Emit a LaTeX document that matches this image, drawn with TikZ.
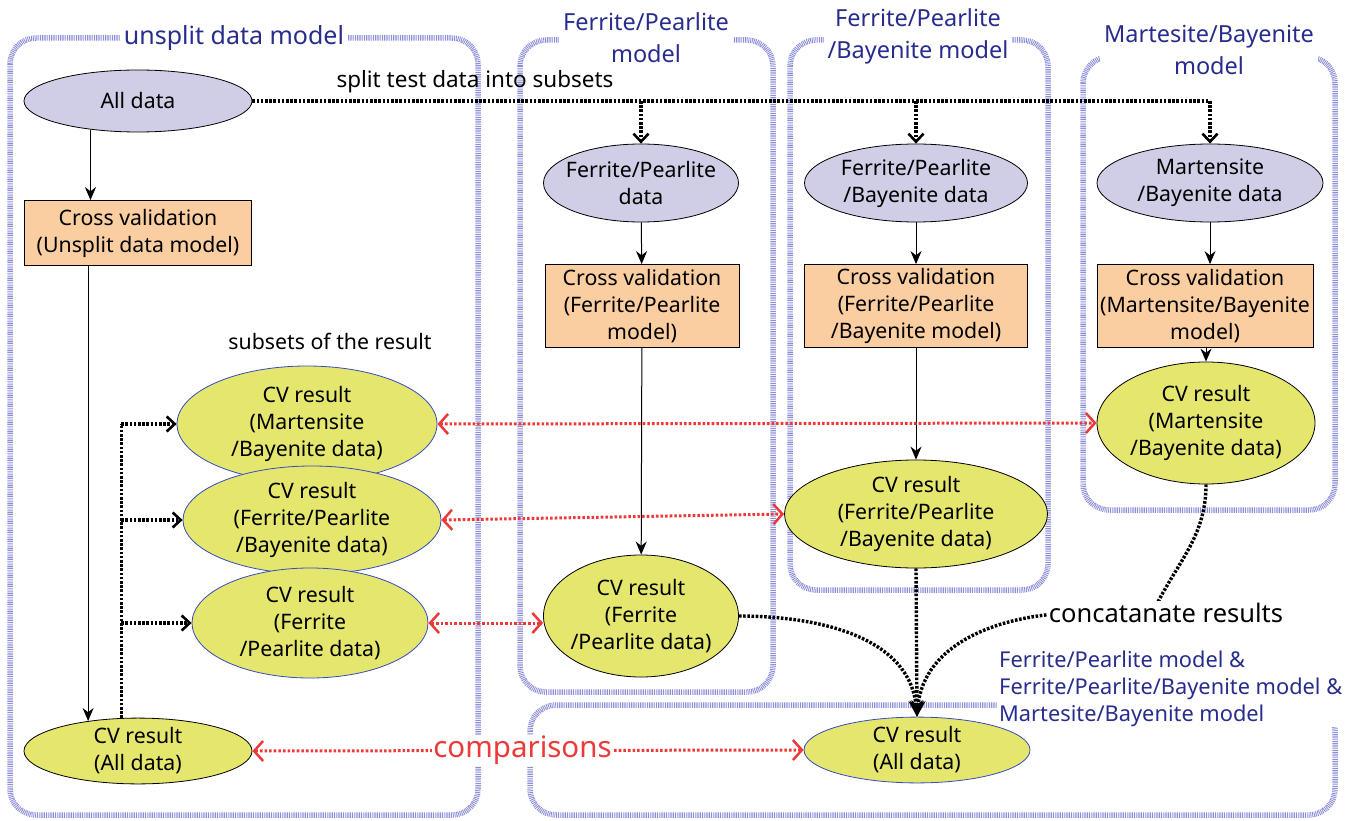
\documentclass[tikz,border=0pt]{standalone}
\usepackage{fontspec}
\setmainfont{Noto Sans}
\usetikzlibrary{shapes.geometric,arrows.meta}
\definecolor{datafill}{RGB}{208,206,230}
\definecolor{cvfill}{RGB}{250,206,160}
\definecolor{resfill}{RGB}{228,230,110}
\definecolor{framecol}{RGB}{140,142,215}
\definecolor{titlecol}{RGB}{40,45,140}
\definecolor{cmpcol}{RGB}{236,58,58}
\definecolor{resline}{RGB}{55,75,190}
\newcommand{\fnode}{\fontsize{21.3}{27}\selectfont}
\newcommand{\ftitle}{\fontsize{23.5}{32}\selectfont}
\newcommand{\drawframe}{\draw[framecol,line width=5.5pt,dash pattern=on 0.9pt off 0.9pt,rounded corners=26pt]}
\tikzset{
  datanode/.style={ellipse,draw,line width=0.8pt,fill=datafill,inner sep=0pt,align=center},
  cvbox/.style={rectangle,draw,line width=0.8pt,fill=cvfill,inner sep=0pt,align=center},
  resnode/.style={ellipse,draw=resline,line width=0.8pt,fill=resfill,inner sep=0pt,align=center},
  frametitle/.style={fill=white,inner xsep=4pt,inner ysep=0pt,text=titlecol,align=center,font=\ftitle},
  flow/.style={-{Stealth[length=13pt,width=11pt]},line width=1pt},
  dotline/.style={line width=3.4pt,dash pattern=on 2.6pt off 1.6pt},
  dotflow/.style={dotline,-{Straight Barb[length=8pt,width=15pt,line width=2.6pt]}},
  catflow/.style={dotline,-{Stealth[length=16pt,width=14pt]}},
  cmpflow/.style={cmpcol,line width=3pt,dash pattern=on 2.6pt off 2pt,
    {Straight Barb[length=9pt,width=20pt,line width=2.5pt]}-{Straight Barb[length=9pt,width=20pt,line width=2.5pt]}}
}
\begin{document}
\begin{tikzpicture}[x=1pt,y=-1pt,font=\fnode]
\useasboundingbox (0,0) rectangle (1362,821);
% model frames
\drawframe (10,38) rectangle (478,815);
\drawframe (520,40) rectangle (773,692);
\drawframe (790,40) rectangle (1048,590);
\drawframe (1083,57) rectangle (1335,510);
\drawframe (530,705) rectangle (1335,815);
\node[frametitle,font=\fontsize{25}{30}\selectfont] (ttlunsplit) at (234,38) {unsplit data model};
\node[frametitle] (ttlfp) at (646,38) {Ferrite/Pearlite\\model};
\node[frametitle] (ttlfpb) at (918,36) {Ferrite/Pearlite\\/Bayenite model};
\node[frametitle] (ttlmb) at (1209,50) {Martesite/Bayenite\\model};
\node[frametitle,align=left,anchor=west,inner xsep=2pt,font=\fontsize{21.8}{27}\selectfont] (ttlall) at (997,689)
  {Ferrite/Pearlite model \&\\Ferrite/Pearlite/Bayenite model \&\\Martesite/Bayenite model};
% unsplit column
\node[datanode,minimum width=228pt,minimum height=62pt] (alldata) at (138,101) {All data};
\node[cvbox,minimum width=227pt,minimum height=65pt] (cvunsplit) at (138,233) {Cross validation\\(Unsplit data model)};
\node[resnode,draw=black,minimum width=228pt,minimum height=62pt] (cvall) at (138,751) {CV result\\(All data)};
% split models
\node[datanode,inner xsep=-12pt,minimum width=195pt,minimum height=78pt] (fpdata) at (641,183) {Ferrite/Pearlite\\data};
\node[datanode,minimum width=223pt,minimum height=78pt] (fpbdata) at (916,183) {Ferrite/Pearlite\\/Bayenite data};
\node[datanode,minimum width=226pt,minimum height=78pt] (mbdata) at (1210,183) {Martensite\\/Bayenite data};
\node[cvbox,minimum width=194pt,minimum height=83pt] (cvfp) at (642,306) {Cross validation\\(Ferrite/Pearlite\\model)};
\node[cvbox,minimum width=223pt,minimum height=83pt] (cvfpb) at (916,306) {Cross validation\\(Ferrite/Pearlite\\/Bayenite model)};
\node[cvbox,minimum width=216pt,minimum height=83pt] (cvmb) at (1205,306) {Cross validation\\(Martensite/Bayenite\\model)};
\node[resnode,draw=black,inner xsep=-8pt,minimum width=195pt,minimum height=122pt] (resfp) at (641,616) {CV result\\(Ferrite\\/Pearlite data)};
\node[resnode,draw=black,minimum width=263pt,minimum height=108pt] (resfpb) at (916,514) {CV result\\(Ferrite/Pearlite\\/Bayenite data)};
\node[resnode,draw=black,minimum width=218pt,minimum height=122pt] (resmb) at (1206,423) {CV result\\(Martensite\\/Bayenite data)};
\node[resnode,minimum width=226pt,minimum height=62pt] (cvallsplit) at (917,750) {CV result\\(All data)};
% subsets of the unsplit result
\node (subsets) at (330,341) {subsets of the result};
\node[resnode,minimum width=260pt,minimum height=116pt] (subsetmb) at (307,424) {CV result\\(Martensite\\/Bayenite data)};
\node[resnode,minimum width=258pt,minimum height=108pt] (subsetfpb) at (312,520) {CV result\\(Ferrite/Pearlite\\/Bayenite data)};
\node[resnode,minimum width=236pt,minimum height=110pt] (subsetfp) at (310,623) {CV result\\(Ferrite\\/Pearlite data)};
% solid flows
\draw[flow] (alldata.211) -- (alldata.211 |- cvunsplit.north);
\draw[flow] (cvall.149 |- cvunsplit.south) -- (cvall.149);
\draw[flow] (fpdata) -- (cvfp);
\draw[flow] (cvfp) -- (resfp);
\draw[flow] (fpbdata) -- (cvfpb);
\draw[flow] (cvfpb) -- (resfpb);
\draw[flow] (mbdata.south) -- (mbdata.south |- cvmb.north);
\draw[flow] (resmb.north |- cvmb.south) -- (resmb.north);
% splitting the test data
\draw[dotline] (alldata.east) -- (alldata.east -| mbdata.north);
\draw[dotflow] (alldata.east -| fpdata.north) -- (fpdata.north);
\draw[dotflow] (alldata.east -| fpbdata.north) -- (fpbdata.north);
\draw[dotflow] (alldata.east -| mbdata.north) -- (mbdata.north);
\node[font=\fontsize{22.5}{27}\selectfont] (splitlbl) at (475,82) {split test data into subsets};
% taking subsets of the unsplit result
\draw[dotline] (cvall.117) -- (cvall.117 |- subsetmb.west);
\draw[dotflow] (cvall.117 |- subsetmb.west) -- (subsetmb.west);
\draw[dotflow] (cvall.117 |- subsetfpb.west) -- (subsetfpb.west);
\draw[dotflow] (cvall.117 |- subsetfp.west) -- (subsetfp.west);
% comparisons
\draw[cmpflow] (subsetmb.east) -- (resmb.west);
\draw[cmpflow] (subsetfpb.east) -- (resfpb.west);
\draw[cmpflow] (subsetfp.east) -- (subsetfp.east -| resfp.west);
\draw[cmpflow] (cvall.east) -- (cvallsplit.west)
  node[pos=0.49,fill=white,inner sep=1pt,text=cmpcol,font=\fontsize{29.5}{30}\selectfont] (cmplbl) {comparisons};
% concatenation
\draw[catflow] (resfp.east) to[out=0,in=95] (cvallsplit.north);
\draw[catflow] (resfpb.south) -- (cvallsplit.north);
\draw[dotline] (resmb.south) to[out=-90,in=65] (1153,612);
\draw[catflow] (1080,613) to[out=180,in=85] (cvallsplit.north);
\node[fill=white,inner sep=2pt,font=\fontsize{25.5}{28}\selectfont] (concat) at (1166,613) {concatanate results};
\end{tikzpicture}
\end{document}
